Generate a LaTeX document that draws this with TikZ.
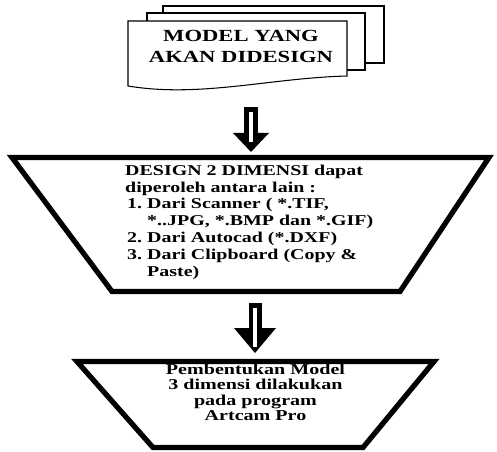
\documentclass[tikz,border=0pt]{standalone}
\usepackage{fontspec}
\setmainfont{Liberation Serif}[FakeStretch=1.33]
\usetikzlibrary{arrows.meta}

\newlength{\du}
\setlength{\du}{15\unitlength}
\newcommand{\itemno}[1]{\hspace*{2pt}\makebox[20pt][l]{#1}}

\tikzset{
  sheet/.style={draw=black, fill=white, line width=0.07\du, line join=miter},
  funnel/.style={draw=black, fill=white, line width=0.35\du, line join=miter},
  blocktext/.style={inner sep=0pt},
  bigarrow/.style n args={3}{draw=black, line width=#1, line cap=butt,
    -{Triangle[length=#2, width=#3, line width=0pt]}},
  arrowgap/.style={draw=white, line width=0.287\du, line cap=butt},
}

\begin{document}
\begin{tikzpicture}
\pgftransformxscale{1.000000}
\pgftransformyscale{-1.000000}
\useasboundingbox (0\du,0\du) rectangle (33.133\du,30.067\du);
% stacked sheets
\draw[sheet] (10.867\du,0.400\du)--(25.600\du,0.400\du)--(25.600\du,4.200\du)--(10.867\du,4.200\du)--cycle;
\draw[sheet] (9.800\du,0.867\du)--(24.333\du,0.867\du)--(24.333\du,4.667\du)--(9.800\du,4.667\du)--cycle;
\draw[sheet] (8.533\du,1.400\du)--(23.133\du,1.400\du)--(23.133\du,5.067\du) .. controls (18.000\du,5.200\du) and (13.333\du,6.533\du) .. (8.533\du,5.733\du)--cycle;
\node[blocktext, anchor=north, align=center, font=\bfseries\fontsize{17}{21}\selectfont] (model) at (16.067\du,1.983\du) {MODEL YANG\\AKAN DIDESIGN};
% first arrow
\coordinate (downA) at (16.733\du,7.133\du);
\coordinate (intoA) at (16.733\du,10.133\du);
\draw[bigarrow={14pt}{19pt}{36pt}] (downA) -- (intoA);
\draw[arrowgap, shorten <=0.333\du, shorten >=0.667\du] (downA) -- (intoA);
% 2D design
\draw[funnel] (0.800\du,10.500\du)--(32.600\du,10.500\du)--(26.667\du,19.433\du)--(7.467\du,19.433\du)--cycle;
\node[blocktext, anchor=north west, align=left, font=\bfseries\fontsize{15}{16.8}\selectfont] (design) at (8.333\du,10.983\du) {DESIGN 2 DIMENSI dapat\\
diperoleh antara lain :\\
\itemno{1.}Dari Scanner ( *.TIF,\\
\hspace*{22pt}*..JPG, *.BMP dan *.GIF)\\
\itemno{2.}Dari Autocad (*.DXF)\\
\itemno{3.}Dari Clipboard (Copy \&\\
\hspace*{22pt}Paste)};
% second arrow
\coordinate (downB) at (17.000\du,20.200\du);
\coordinate (intoB) at (17.000\du,23.533\du);
\draw[bigarrow={13pt}{25pt}{42pt}] (downB) -- (intoB);
\draw[arrowgap, shorten <=0.313\du, shorten >=0.400\du] (downB) -- (intoB);
% 3D model
\draw[funnel] (5.133\du,24.100\du)--(28.933\du,24.100\du)--(24.200\du,29.833\du)--(10.200\du,29.833\du)--cycle;
\node[blocktext, anchor=north, align=center, font=\bfseries\fontsize{15.1}{15.3}\selectfont] (artcam) at (17.033\du,24.267\du) {Pembentukan Model\\3 dimensi dilakukan\\pada program\\Artcam Pro};
\end{tikzpicture}
\end{document}
